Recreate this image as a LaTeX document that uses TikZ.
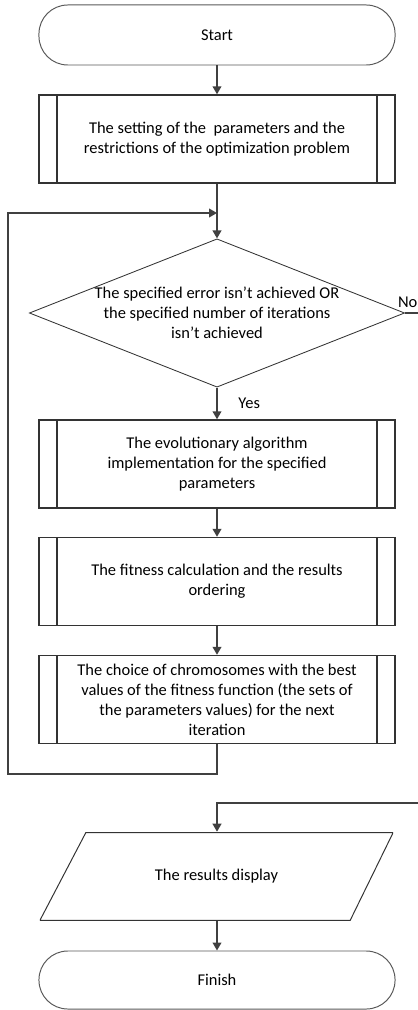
\documentclass[tikz,border=0pt]{standalone}
\usepackage{fontspec}
\setmainfont{Carlito}
\usepackage{tikz}
\usetikzlibrary{arrows.meta,positioning,shapes.geometric}

\begin{document}
\begin{tikzpicture}[x=0.025cm,y=-0.025cm,>={Triangle[length=2mm,width=2.2mm]},
  txt/.style={font=\fontsize{11.7pt}{14.2pt}\selectfont,align=center},
  con/.style={draw=black!75,line width=1.1pt},
  term/.style={txt,draw=black!65,line width=0.7pt,rounded corners=0.72cm,minimum width=8.9cm,minimum height=1.5cm},
  proc/.style={txt,draw=black!80,line width=1pt,minimum width=8.9cm,minimum height=2.2cm,
    path picture={
      \draw[draw=black!80,line width=1pt] ([xshift=0.45cm]path picture bounding box.north west)--([xshift=0.45cm]path picture bounding box.south west);
      \draw[draw=black!80,line width=1pt] ([xshift=-0.45cm]path picture bounding box.north east)--([xshift=-0.45cm]path picture bounding box.south east);}},
  cond/.style={txt,draw=black!80,line width=0.6pt,diamond,aspect=2.53,minimum width=9.3cm,minimum height=3.7cm,inner sep=0pt},
  io/.style={txt,minimum width=8.83cm,minimum height=2.225cm,
    path picture={
      \draw[draw=black!80,line width=0.7pt] ([xshift=1.15cm,yshift=-0.4pt]path picture bounding box.north west)--([yshift=-0.4pt]path picture bounding box.north east)
        --([xshift=-1.075cm,yshift=0.4pt]path picture bounding box.south east)--([yshift=0.4pt]path picture bounding box.south west)--cycle;}},
  lbl/.style={font=\fontsize{11.7pt}{14.2pt}\selectfont}]
\useasboundingbox (0,0) rectangle (418,1010);
\clip (0,0) rectangle (418,1010);
% blocks
\node[term] (st) at (217,35) {Start};
\node[proc] (set0) at (217,139) {The setting of the~ parameters and the\\restrictions of the optimization problem};
\node[cond] (dec) at (217,313) {The specified error isn’t achieved OR\\the specified number of iterations\\isn’t achieved};
\node[proc] (evo) at (217,464) {The evolutionary algorithm\\implementation for the specified\\parameters};
\node[proc] (fit) at (217,581.5) {The fitness calculation and the results\\ordering};
\node[proc] (sel) at (217,699.5) {The choice of chromosomes with the best\\values of the fitness function (the sets of\\the parameters values) for the next\\iteration};
\node[io] (disp) at (216.5,876.5) {The results display};
\node[term,minimum height=1.45cm] (fin) at (217,980) {Finish};
% loop and exit points
\coordinate (jn) at (217,213);
\coordinate (lpA) at (217,774);
\coordinate (lpB) at (8,774);
\coordinate (lpC) at (8,213);
\coordinate (noR) at (432,803);
\coordinate (noL) at (217,803);
% connectors
\draw[con,->] (st.south)--(set0.north);
\draw[con,->] (set0.south)--(dec.north);
\draw[con,->] (dec.south)--node[lbl,right,xshift=0.4cm]{Yes}(evo.north);
\draw[con,->] (evo.south)--(fit.north);
\draw[con,->] (fit.south)--(sel.north);
\draw[con,->] (sel.south)--(lpA)--(lpB)--(lpC)--(jn);
\draw[con,->] (dec.east)--node[lbl,above,pos=0.1]{No}(dec.east -| noR)--(noR)--(noL)--(noL |- disp.north);
\draw[con,->] (disp.south -| fin.north)--(fin.north);
\end{tikzpicture}
\end{document}
